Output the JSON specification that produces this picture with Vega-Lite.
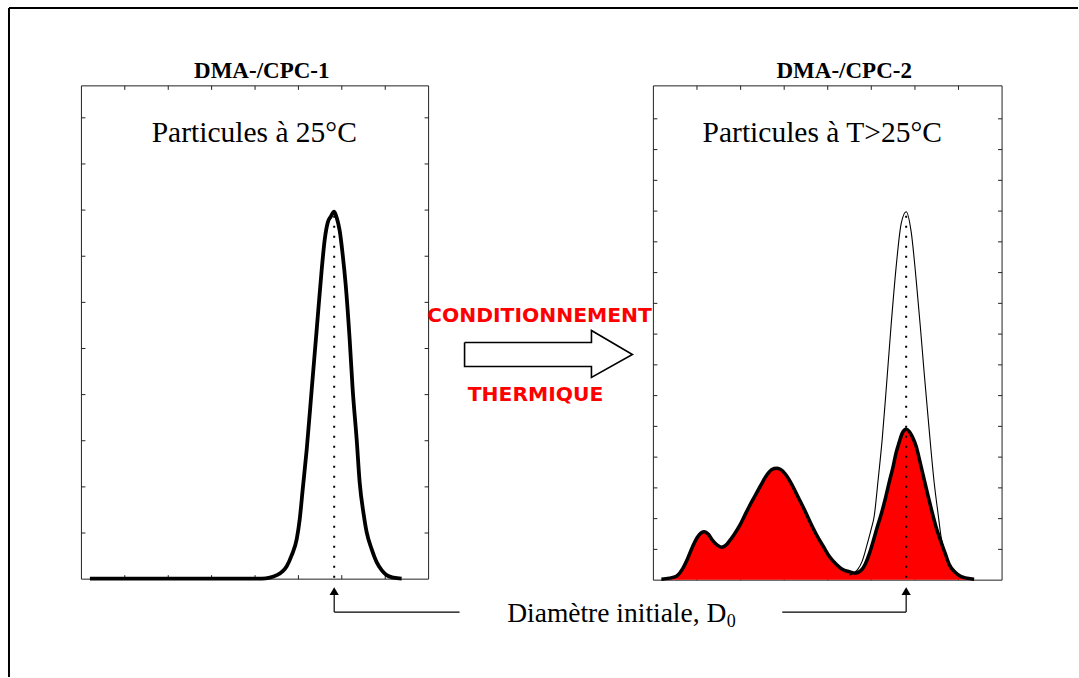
{
  "$schema": "https://vega.github.io/schema/vega-lite/v6.json",
  "width": 1079,
  "height": 678,
  "padding": 0,
  "autosize": {"type": "fit", "contains": "padding"},
  "background": "white",
  "config": {"view": {"stroke": null}},
  "datasets": {
    "outer": [
      {"x": 9, "y": 8, "x2": 1079, "y2": 8},
      {"x": 9, "y": 8, "x2": 9, "y2": 678}
    ],
    "frames": [
      {"x": 81.5, "y": 86, "x2": 429, "y2": 580},
      {"x": 654, "y": 86, "x2": 1003, "y2": 581}
    ],
    "ticks": [
      {"x": 124.9, "y": 86, "x2": 124.9, "y2": 90}, {"x": 168.4, "y": 86, "x2": 168.4, "y2": 90},
      {"x": 211.8, "y": 86, "x2": 211.8, "y2": 90}, {"x": 255.3, "y": 86, "x2": 255.3, "y2": 90},
      {"x": 298.7, "y": 86, "x2": 298.7, "y2": 90}, {"x": 342.1, "y": 86, "x2": 342.1, "y2": 90},
      {"x": 385.6, "y": 86, "x2": 385.6, "y2": 90},
      {"x": 124.9, "y": 580, "x2": 124.9, "y2": 576}, {"x": 168.4, "y": 580, "x2": 168.4, "y2": 576},
      {"x": 211.8, "y": 580, "x2": 211.8, "y2": 576}, {"x": 255.3, "y": 580, "x2": 255.3, "y2": 576},
      {"x": 298.7, "y": 580, "x2": 298.7, "y2": 576}, {"x": 342.1, "y": 580, "x2": 342.1, "y2": 576},
      {"x": 385.6, "y": 580, "x2": 385.6, "y2": 576},
      {"x": 81.5, "y": 533.8, "x2": 85.5, "y2": 533.8}, {"x": 81.5, "y": 487.6, "x2": 85.5, "y2": 487.6},
      {"x": 81.5, "y": 441.4, "x2": 85.5, "y2": 441.4}, {"x": 81.5, "y": 395.2, "x2": 85.5, "y2": 395.2},
      {"x": 81.5, "y": 349, "x2": 85.5, "y2": 349}, {"x": 81.5, "y": 302.8, "x2": 85.5, "y2": 302.8},
      {"x": 81.5, "y": 256.6, "x2": 85.5, "y2": 256.6}, {"x": 81.5, "y": 210.4, "x2": 85.5, "y2": 210.4},
      {"x": 81.5, "y": 164.2, "x2": 85.5, "y2": 164.2}, {"x": 81.5, "y": 118, "x2": 85.5, "y2": 118},
      {"x": 429, "y": 533.8, "x2": 425, "y2": 533.8}, {"x": 429, "y": 487.6, "x2": 425, "y2": 487.6},
      {"x": 429, "y": 441.4, "x2": 425, "y2": 441.4}, {"x": 429, "y": 395.2, "x2": 425, "y2": 395.2},
      {"x": 429, "y": 349, "x2": 425, "y2": 349}, {"x": 429, "y": 302.8, "x2": 425, "y2": 302.8},
      {"x": 429, "y": 256.6, "x2": 425, "y2": 256.6}, {"x": 429, "y": 210.4, "x2": 425, "y2": 210.4},
      {"x": 429, "y": 164.2, "x2": 425, "y2": 164.2}, {"x": 429, "y": 118, "x2": 425, "y2": 118},
      {"x": 697.6, "y": 86, "x2": 697.6, "y2": 90}, {"x": 741.3, "y": 86, "x2": 741.3, "y2": 90},
      {"x": 784.9, "y": 86, "x2": 784.9, "y2": 90}, {"x": 828.5, "y": 86, "x2": 828.5, "y2": 90},
      {"x": 872.1, "y": 86, "x2": 872.1, "y2": 90}, {"x": 915.8, "y": 86, "x2": 915.8, "y2": 90},
      {"x": 959.4, "y": 86, "x2": 959.4, "y2": 90},
      {"x": 697.6, "y": 581, "x2": 697.6, "y2": 577}, {"x": 741.3, "y": 581, "x2": 741.3, "y2": 577},
      {"x": 784.9, "y": 581, "x2": 784.9, "y2": 577}, {"x": 828.5, "y": 581, "x2": 828.5, "y2": 577},
      {"x": 872.1, "y": 581, "x2": 872.1, "y2": 577}, {"x": 915.8, "y": 581, "x2": 915.8, "y2": 577},
      {"x": 959.4, "y": 581, "x2": 959.4, "y2": 577},
      {"x": 654, "y": 550.2, "x2": 658, "y2": 550.2}, {"x": 654, "y": 519.4, "x2": 658, "y2": 519.4},
      {"x": 654, "y": 488.6, "x2": 658, "y2": 488.6}, {"x": 654, "y": 457.8, "x2": 658, "y2": 457.8},
      {"x": 654, "y": 427, "x2": 658, "y2": 427}, {"x": 654, "y": 396.2, "x2": 658, "y2": 396.2},
      {"x": 654, "y": 365.4, "x2": 658, "y2": 365.4}, {"x": 654, "y": 334.6, "x2": 658, "y2": 334.6},
      {"x": 654, "y": 303.8, "x2": 658, "y2": 303.8}, {"x": 654, "y": 273, "x2": 658, "y2": 273},
      {"x": 654, "y": 242.2, "x2": 658, "y2": 242.2}, {"x": 654, "y": 211.4, "x2": 658, "y2": 211.4},
      {"x": 654, "y": 180.6, "x2": 658, "y2": 180.6}, {"x": 654, "y": 149.8, "x2": 658, "y2": 149.8},
      {"x": 654, "y": 119, "x2": 658, "y2": 119},
      {"x": 1003, "y": 550.2, "x2": 999, "y2": 550.2}, {"x": 1003, "y": 519.4, "x2": 999, "y2": 519.4},
      {"x": 1003, "y": 488.6, "x2": 999, "y2": 488.6}, {"x": 1003, "y": 457.8, "x2": 999, "y2": 457.8},
      {"x": 1003, "y": 427, "x2": 999, "y2": 427}, {"x": 1003, "y": 396.2, "x2": 999, "y2": 396.2},
      {"x": 1003, "y": 365.4, "x2": 999, "y2": 365.4}, {"x": 1003, "y": 334.6, "x2": 999, "y2": 334.6},
      {"x": 1003, "y": 303.8, "x2": 999, "y2": 303.8}, {"x": 1003, "y": 273, "x2": 999, "y2": 273},
      {"x": 1003, "y": 242.2, "x2": 999, "y2": 242.2}, {"x": 1003, "y": 211.4, "x2": 999, "y2": 211.4},
      {"x": 1003, "y": 180.6, "x2": 999, "y2": 180.6}, {"x": 1003, "y": 149.8, "x2": 999, "y2": 149.8},
      {"x": 1003, "y": 119, "x2": 999, "y2": 119}
    ],
    "left_curve": [
      {"x": 90, "y": 579.5}, {"x": 200, "y": 579.5}, {"x": 262, "y": 579.5}, {"x": 270, "y": 578.5},
      {"x": 277, "y": 576}, {"x": 283, "y": 572}, {"x": 287, "y": 567}, {"x": 292, "y": 556},
      {"x": 297, "y": 540}, {"x": 300, "y": 520}, {"x": 303, "y": 490}, {"x": 307, "y": 450},
      {"x": 312, "y": 390}, {"x": 317, "y": 330}, {"x": 322, "y": 270}, {"x": 325, "y": 240},
      {"x": 328, "y": 223}, {"x": 331, "y": 217}, {"x": 334.5, "y": 212}, {"x": 337, "y": 218},
      {"x": 340, "y": 231}, {"x": 343, "y": 255}, {"x": 346, "y": 285}, {"x": 350, "y": 340},
      {"x": 353, "y": 390}, {"x": 357, "y": 440}, {"x": 360, "y": 483}, {"x": 364, "y": 515},
      {"x": 367, "y": 533}, {"x": 372, "y": 550}, {"x": 377, "y": 563}, {"x": 382, "y": 571},
      {"x": 387, "y": 576}, {"x": 394, "y": 578.5}, {"x": 402, "y": 579.5}
    ],
    "thin_curve": [
      {"x": 850, "y": 576}, {"x": 858, "y": 571}, {"x": 863, "y": 562}, {"x": 868, "y": 545},
      {"x": 872, "y": 530}, {"x": 875, "y": 517}, {"x": 879, "y": 480}, {"x": 883, "y": 440},
      {"x": 887, "y": 390}, {"x": 892, "y": 325}, {"x": 897, "y": 267}, {"x": 902, "y": 224},
      {"x": 907, "y": 212}, {"x": 912, "y": 232}, {"x": 917, "y": 280}, {"x": 921, "y": 325},
      {"x": 925, "y": 373}, {"x": 930, "y": 430}, {"x": 935, "y": 483}, {"x": 939, "y": 515},
      {"x": 942, "y": 538}, {"x": 946, "y": 555}, {"x": 950, "y": 567}, {"x": 956, "y": 574},
      {"x": 962, "y": 578}, {"x": 975, "y": 580}
    ],
    "red_curve": [
      {"x": 662, "y": 580}, {"x": 670, "y": 579}, {"x": 677, "y": 577}, {"x": 683, "y": 570},
      {"x": 688, "y": 560}, {"x": 693, "y": 548}, {"x": 698, "y": 538}, {"x": 702, "y": 533.5},
      {"x": 705, "y": 532.5}, {"x": 709, "y": 535}, {"x": 713, "y": 541}, {"x": 718, "y": 546},
      {"x": 722, "y": 548}, {"x": 726, "y": 546.5}, {"x": 730, "y": 542}, {"x": 735, "y": 535},
      {"x": 740, "y": 527}, {"x": 745, "y": 517}, {"x": 750, "y": 507}, {"x": 756, "y": 496},
      {"x": 762, "y": 485}, {"x": 768, "y": 475}, {"x": 773, "y": 470}, {"x": 777, "y": 469},
      {"x": 781, "y": 470}, {"x": 787, "y": 476}, {"x": 793, "y": 486}, {"x": 799, "y": 498},
      {"x": 805, "y": 510}, {"x": 811, "y": 523}, {"x": 817, "y": 535}, {"x": 824, "y": 547},
      {"x": 830, "y": 557}, {"x": 837, "y": 565}, {"x": 843, "y": 570}, {"x": 850, "y": 572.5},
      {"x": 856, "y": 574}, {"x": 862, "y": 571}, {"x": 866, "y": 565}, {"x": 870, "y": 555},
      {"x": 874, "y": 542}, {"x": 878, "y": 528}, {"x": 882, "y": 515}, {"x": 886, "y": 500},
      {"x": 890, "y": 483}, {"x": 894, "y": 467}, {"x": 897, "y": 453}, {"x": 900, "y": 443},
      {"x": 903, "y": 434}, {"x": 907, "y": 430}, {"x": 910, "y": 432}, {"x": 913, "y": 437},
      {"x": 917, "y": 447}, {"x": 921, "y": 463}, {"x": 925, "y": 480}, {"x": 929, "y": 497},
      {"x": 933, "y": 513}, {"x": 937, "y": 528}, {"x": 942, "y": 543}, {"x": 946, "y": 554},
      {"x": 950, "y": 565}, {"x": 956, "y": 573}, {"x": 962, "y": 577.5}, {"x": 968, "y": 579},
      {"x": 975, "y": 580}
    ],
    "dotted": [
      {"x": 334.5, "y": 216, "x2": 334.5, "y2": 580},
      {"x": 907, "y": 216, "x2": 907, "y2": 580}
    ],
    "pointers": [
      {"x": 334.5, "y": 596, "x2": 334.5, "y2": 613},
      {"x": 334.5, "y": 613, "x2": 460, "y2": 613},
      {"x": 907, "y": 596, "x2": 907, "y2": 613},
      {"x": 783, "y": 613, "x2": 907, "y2": 613}
    ],
    "heads": [
      {"x": 334.5, "y": 592},
      {"x": 907, "y": 592}
    ],
    "big_arrow": [
      {"o": 1, "x": 465, "y": 343}, {"o": 2, "x": 592, "y": 343}, {"o": 3, "x": 592, "y": 331},
      {"o": 4, "x": 633, "y": 355}, {"o": 5, "x": 592, "y": 378}, {"o": 6, "x": 592, "y": 367},
      {"o": 7, "x": 465, "y": 367}, {"o": 8, "x": 465, "y": 343}
    ],
    "titles": [
      {"x": 262, "y": 78, "text": "DMA-/CPC-1"},
      {"x": 845, "y": 78, "text": "DMA-/CPC-2"}
    ],
    "subtitles": [
      {"x": 254.5, "y": 142, "text": "Particules à 25°C"},
      {"x": 823, "y": 142, "text": "Particules à T>25°C"}
    ],
    "red_labels": [
      {"x": 540, "y": 322, "text": "CONDITIONNEMENT"},
      {"x": 536, "y": 402, "text": "THERMIQUE"}
    ],
    "annot": [
      {"x": 727, "y": 623, "text": "Diamètre initiale, D"}
    ],
    "annot_sub": [
      {"x": 727.5, "y": 628, "text": "0"}
    ]
  },
  "encoding": {
    "x": {"field": "x", "type": "quantitative", "scale": {"domain": [0, 1079], "nice": false, "zero": false}, "axis": null},
    "y": {"field": "y", "type": "quantitative", "scale": {"domain": [0, 678], "nice": false, "zero": false, "reverse": true}, "axis": null}
  },
  "layer": [
    {
      "data": {"name": "outer"},
      "mark": {"type": "rule", "stroke": "black", "strokeWidth": 2},
      "encoding": {"x2": {"field": "x2"}, "y2": {"field": "y2"}}
    },
    {
      "data": {"name": "frames"},
      "mark": {"type": "rect", "fill": null, "fillOpacity": 0, "stroke": "#222222", "strokeWidth": 1},
      "encoding": {"x2": {"field": "x2"}, "y2": {"field": "y2"}}
    },
    {
      "data": {"name": "ticks"},
      "mark": {"type": "rule", "stroke": "#222222", "strokeWidth": 1},
      "encoding": {"x2": {"field": "x2"}, "y2": {"field": "y2"}}
    },
    {
      "data": {"name": "red_curve"},
      "mark": {"type": "area", "fill": "#ff0000", "interpolate": "monotone"},
      "encoding": {"y2": {"datum": 580.5}}
    },
    {
      "data": {"name": "thin_curve"},
      "mark": {"type": "line", "stroke": "black", "strokeWidth": 1.1, "interpolate": "monotone"},
      "encoding": {}
    },
    {
      "data": {"name": "red_curve"},
      "mark": {"type": "line", "stroke": "black", "strokeWidth": 3.5, "interpolate": "monotone"},
      "encoding": {}
    },
    {
      "data": {"name": "left_curve"},
      "mark": {"type": "line", "stroke": "black", "strokeWidth": 3.8, "interpolate": "monotone"},
      "encoding": {}
    },
    {
      "data": {"name": "dotted"},
      "mark": {"type": "rule", "stroke": "black", "strokeWidth": 2, "strokeDash": [2, 8]},
      "encoding": {"x2": {"field": "x2"}, "y2": {"field": "y2"}}
    },
    {
      "data": {"name": "pointers"},
      "mark": {"type": "rule", "stroke": "black", "strokeWidth": 1.2},
      "encoding": {"x2": {"field": "x2"}, "y2": {"field": "y2"}}
    },
    {
      "data": {"name": "heads"},
      "mark": {"type": "point", "shape": "triangle-up", "filled": true, "fill": "black", "stroke": null, "size": 85, "opacity": 1},
      "encoding": {}
    },
    {
      "data": {"name": "big_arrow"},
      "mark": {"type": "line", "stroke": "black", "strokeWidth": 1.6, "strokeJoin": "miter"},
      "encoding": {"order": {"field": "o", "type": "quantitative"}}
    },
    {
      "data": {"name": "titles"},
      "mark": {"type": "text", "font": "Liberation Serif", "fontWeight": "bold", "fontSize": 23, "align": "center", "baseline": "alphabetic", "color": "black"},
      "encoding": {"text": {"field": "text"}}
    },
    {
      "data": {"name": "subtitles"},
      "mark": {"type": "text", "font": "Liberation Serif", "fontSize": 29.5, "align": "center", "baseline": "alphabetic", "color": "black"},
      "encoding": {"text": {"field": "text"}}
    },
    {
      "data": {"name": "red_labels"},
      "mark": {"type": "text", "font": "DejaVu Sans", "fontWeight": "bold", "fontSize": 20.3, "align": "center", "baseline": "alphabetic", "color": "#ff0000"},
      "encoding": {"text": {"field": "text"}}
    },
    {
      "data": {"name": "annot"},
      "mark": {"type": "text", "font": "Liberation Serif", "fontSize": 27.5, "align": "right", "baseline": "alphabetic", "color": "black"},
      "encoding": {"text": {"field": "text"}}
    },
    {
      "data": {"name": "annot_sub"},
      "mark": {"type": "text", "font": "Liberation Serif", "fontSize": 18, "align": "left", "baseline": "alphabetic", "color": "black"},
      "encoding": {"text": {"field": "text"}}
    }
  ]
}
